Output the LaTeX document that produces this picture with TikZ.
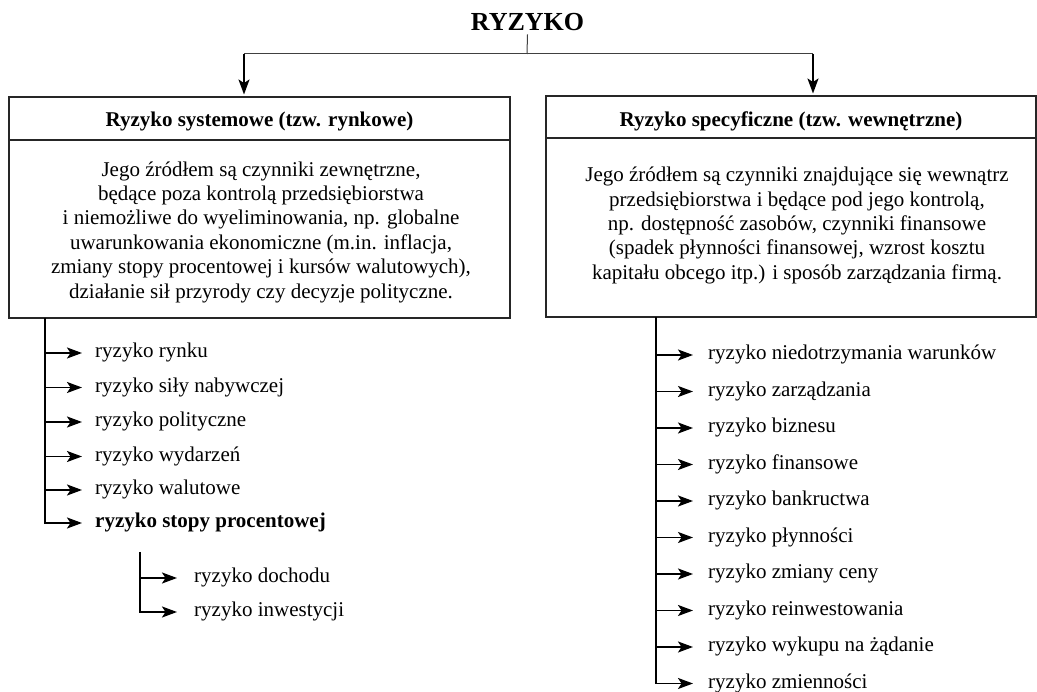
\documentclass[tikz,border=0pt]{standalone}
\usepackage{fontspec}
\setmainfont{Liberation Serif}
\usetikzlibrary{arrows.meta}
\begin{document}
\begin{tikzpicture}[x=1pt,y=-1pt,
  boxline/.style={draw=black!85,line width=2pt},
  hdr/.style={boxline,rectangle,inner sep=0pt,font=\fontsize{21}{24.4}\selectfont\bfseries,text height=17pt,text depth=0pt},
  bodybox/.style={boxline,rectangle,inner sep=0pt},
  bodytext/.style={align=center,inner sep=0pt,font=\fontsize{21}{24.4}\selectfont},
  listitem/.style={anchor=west,inner sep=0pt,font=\fontsize{21}{24.4}\selectfont,text height=14.3pt,text depth=4.6pt},
  arr/.style={-{Stealth[length=15pt,width=11pt,inset=3.5pt]},line width=1.7pt},
  thinline/.style={line width=1pt,draw=black!75},
]
\useasboundingbox (0,0) rectangle (1037,692);

% title
\node[inner sep=0pt,font=\fontsize{26}{30}\selectfont\bfseries] (title) at (527.5,22.5) {RYZYKO};

% boxes
\node[hdr,minimum width=501pt,minimum height=43pt] (sysh) at (259.5,118.5) {Ryzyko systemowe (tzw. rynkowe)};
\node[bodybox,minimum width=501pt,minimum height=178pt] (sysb) at (259.5,229) {};
\node[bodytext] (syst) at (261,232) {Jego źródłem są czynniki zewnętrzne,\\
będące poza kontrolą przedsiębiorstwa\\
i niemożliwe do wyeliminowania, np. globalne\\
uwarunkowania ekonomiczne (m.in. inflacja,\\
zmiany stopy procentowej i kursów walutowych),\\
działanie sił przyrody czy decyzje polityczne.};

\node[hdr,text height=20pt,minimum width=490pt,minimum height=42pt] (spech) at (791,117) {Ryzyko specyficzne (tzw. wewnętrzne)};
\node[bodybox,minimum width=490pt,minimum height=179pt] (specb) at (791,227.5) {};
\node[bodytext] (spect) at (797,225.5) {Jego źródłem są czynniki znajdujące się wewnątrz\\
przedsiębiorstwa i będące pod jego kontrolą,\\
np. dostępność zasobów, czynniki finansowe\\
(spadek płynności finansowej, wzrost kosztu\\
kapitału obcego itp.) i sposób zarządzania firmą.};

% top connectors
\coordinate (j) at (527,54);
\coordinate (aL) at (244,54);
\coordinate (aR) at (813,54);
\draw[thinline] ([yshift=-3pt]title.south) -- (j);
\draw[thinline] (aL) -- (aR);
\draw[arr,shorten >=1.5pt] (aL) -- (aL |- sysh.north);
\draw[arr,shorten >=1.5pt] (aR) -- (aR |- spech.north);

% left list
\coordinate (ls) at (45,318);
\node[listitem] (l1) at (95,353) {ryzyko rynku};
\node[listitem] (l2) at (95,387.5) {ryzyko siły nabywczej};
\node[listitem] (l3) at (95,422) {ryzyko polityczne};
\node[listitem] (l4) at (95,456.5) {ryzyko wydarzeń};
\node[listitem] (l5) at (95,490) {ryzyko walutowe};
\node[listitem,font=\fontsize{21}{24.4}\selectfont\bfseries] (l6) at (95,523) {ryzyko stopy procentowej};
\foreach \n in {l1,l2,l3,l4,l5}
  \draw[arr,shorten >=13pt] (ls |- \n.west) -- (\n.west);
\draw[arr,shorten >=13pt] (ls) |- (l6.west);

% sub list
\coordinate (ss) at (140,552);
\node[listitem] (s1) at (194,578) {ryzyko dochodu};
\node[listitem] (s2) at (194,612) {ryzyko inwestycji};
\draw[arr,shorten >=17pt] (ss |- s1.west) -- (s1.west);
\draw[arr,shorten >=17pt] (ss) |- (s2.west);

% right list
\coordinate (rs) at (656,317);
\node[listitem] (r1) at (708,355) {ryzyko niedotrzymania warunków};
\node[listitem] (r2) at (708,391.5) {ryzyko zarządzania};
\node[listitem] (r3) at (708,428) {ryzyko biznesu};
\node[listitem] (r4) at (708,464.5) {ryzyko finansowe};
\node[listitem] (r5) at (708,501) {ryzyko bankructwa};
\node[listitem] (r6) at (708,537.5) {ryzyko płynności};
\node[listitem] (r7) at (708,574) {ryzyko zmiany ceny};
\node[listitem] (r8) at (708,610.5) {ryzyko reinwestowania};
\node[listitem] (r9) at (708,647) {ryzyko wykupu na żądanie};
\node[listitem] (r10) at (708,683.5) {ryzyko zmienności};
\foreach \n in {r1,r2,r3,r4,r5,r6,r7,r8,r9}
  \draw[arr,shorten >=15pt] (rs |- \n.west) -- (\n.west);
\draw[arr,shorten >=15pt] (rs) |- (r10.west);
\end{tikzpicture}
\end{document}
